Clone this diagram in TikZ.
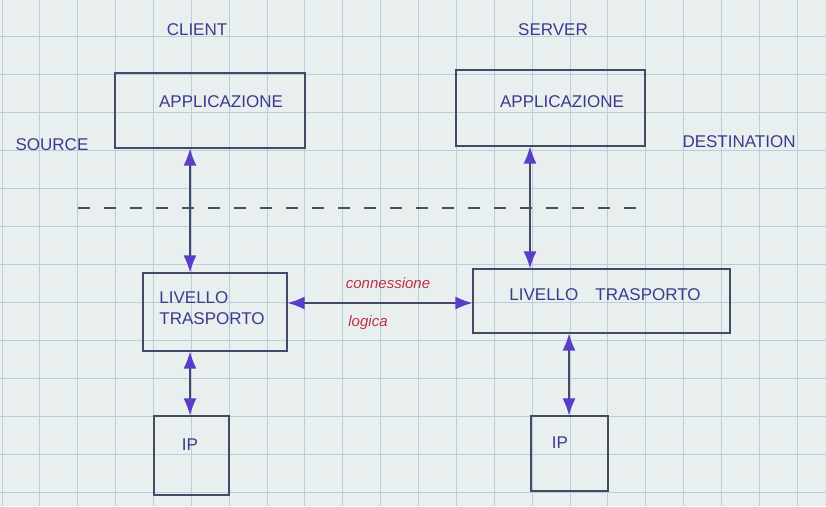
\documentclass[tikz,border=0pt]{standalone}
\usepackage{fontspec}
\setmainfont{Liberation Sans}
\usetikzlibrary{arrows.meta}
\definecolor{paper}{HTML}{E9EEEE}
\definecolor{gridc}{HTML}{B8CFD9}
\definecolor{ink}{HTML}{3C3A8C}
\definecolor{boxc}{HTML}{434A66}
\definecolor{arr}{HTML}{5B3EC8}
\definecolor{redink}{HTML}{C0304A}
\tikzset{
  hand/.style={text=ink, font=\fontsize{17}{19}\selectfont, inner sep=1pt},
  box/.style={draw=boxc, line width=1.2pt, inner sep=0pt},
  link/.style={draw=boxc, line width=1.4pt, {Latex[length=17pt,width=13pt,fill=arr,color=arr]}-{Latex[length=17pt,width=13pt,fill=arr,color=arr]}},
  redlabel/.style={text=redink, font=\fontsize{15}{17}\itshape\selectfont, inner sep=1pt}
}
\begin{document}
\begin{tikzpicture}[x=1pt,y=-1pt]
\useasboundingbox (0,0) rectangle (826,506);
\fill[paper] (0,0) rectangle (826,506);
\foreach \i in {0,...,21} { \draw[gridc, line width=0.8pt] ({2+37.86*\i},0) -- ({2+37.86*\i},506); }
\foreach \j in {-1,...,12} { \draw[gridc, line width=0.8pt] (0,{36+38*\j}) -- (826,{36+38*\j}); }

% boxes
\node[box, minimum width=190pt, minimum height=75pt] (appL) at (210,110.5) {};
\node[box, minimum width=189pt, minimum height=76pt] (appR) at (550.5,108) {};
\node[box, minimum width=144pt, minimum height=78pt] (ltL) at (215,312) {};
\node[box, minimum width=257pt, minimum height=64pt] (ltR) at (601.5,301) {};
\node[box, minimum width=75pt, minimum height=79pt] (ipL) at (191.5,455.5) {};
\node[box, minimum width=77pt, minimum height=75pt] (ipR) at (569.5,453.5) {};

% texts
\node[hand] (client) at (197,30) {CLIENT};
\node[hand] (server) at (553,30) {SERVER};
\node[hand] (tappL) at (221,102) {APPLICAZIONE};
\node[hand] (tappR) at (562,102) {APPLICAZIONE};
\node[hand] (source) at (52,145) {SOURCE};
\node[hand] (dest) at (739,142) {DESTINATION};
\node[hand, align=left] (tltL) at (212,308) {LIVELLO\\[2pt]TRASPORTO};
\node[hand] (tltR) at (605,295) {LIVELLO\quad TRASPORTO};
\node[hand] (tipL) at (190,445) {IP};
\node[hand] (tipR) at (560,443) {IP};
\node[redlabel] (conn) at (388,283) {connessione};
\node[redlabel] (logi) at (368,323) {logica};

% dashed separator
\coordinate (dA) at (78,208);
\coordinate (dB) at (645,208);
\draw[boxc!80!teal, line width=1.1pt, dash pattern=on 12pt off 14pt] (dA) -- (dB);

% connectors
\coordinate (xL) at (190,0);
\coordinate (xR) at (530,0);
\coordinate (xR2) at (569,0);
\coordinate (yC) at (0,303);
\draw[link] (appL.south -| xL) -- (ltL.north -| xL);
\draw[link] (appR.south -| xR) -- (ltR.north -| xR);
\draw[link] (ltL.south -| xL) -- (ipL.north -| xL);
\draw[link] (ltR.south -| xR2) -- (ipR.north -| xR2);
\draw[link] (ltL.east |- yC) -- (ltR.west |- yC);
\end{tikzpicture}
\end{document}
